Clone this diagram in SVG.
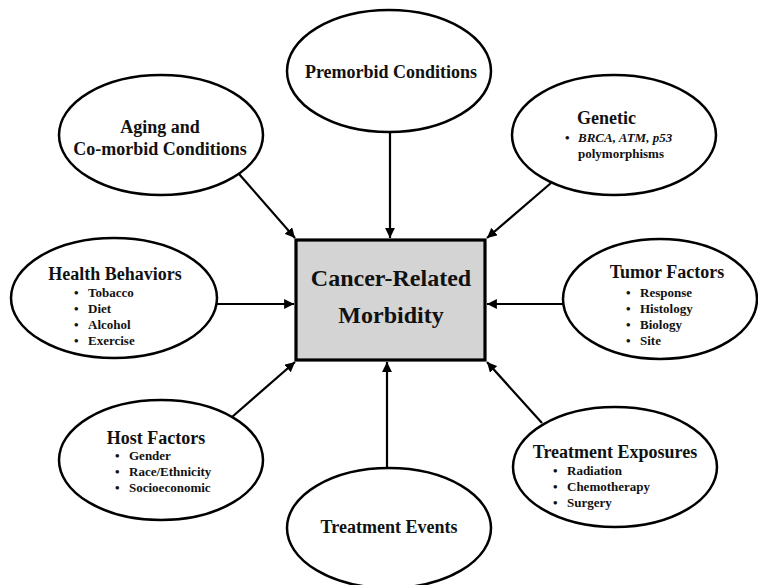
<svg xmlns="http://www.w3.org/2000/svg" width="758" height="585" viewBox="0 0 758 585">
  <style>
    .node ellipse { fill: #ffffff; stroke: #000; stroke-width: 2.5; }
    .title { font-family: "Liberation Serif", "Times New Roman", serif; font-weight: bold; font-size: 18px; fill: #111; }
    .item { font-family: "Liberation Serif", "Times New Roman", serif; font-weight: bold; font-size: 13px; fill: #111; }
    .main { font-family: "Liberation Serif", "Times New Roman", serif; font-weight: bold; font-size: 24px; fill: #111; }
    .mid { text-anchor: middle; }
    .conn line { stroke: #000; stroke-width: 2.2; marker-end: url(#arrow); }
  </style>
  <defs>
    <marker id="arrow" viewBox="0 0 10 10" refX="10" refY="5" markerWidth="4.5" markerHeight="4.5" markerUnits="strokeWidth" orient="auto">
      <path d="M0,0 L10,5 L0,10 z" fill="#000"/>
    </marker>
  </defs>
  <rect width="758" height="585" fill="#ffffff"/>

  <!-- connectors -->
  <g id="connectors" class="conn">
    <line x1="390" y1="132" x2="390" y2="238"/>
    <line x1="239" y1="174" x2="295" y2="238"/>
    <line x1="551" y1="183" x2="487" y2="238"/>
    <line x1="217" y1="304" x2="294" y2="304"/>
    <line x1="563" y1="304" x2="487" y2="304"/>
    <line x1="232" y1="417" x2="295" y2="362"/>
    <line x1="387" y1="468" x2="387" y2="362"/>
    <line x1="542" y1="423" x2="487" y2="362"/>
  </g>

  <!-- central node -->
  <g id="cancer-related-morbidity">
    <rect x="296" y="240" width="189" height="120" fill="#d4d4d4" stroke="#000" stroke-width="3.2"/>
    <text class="main mid" x="391" y="286">Cancer-Related</text>
    <text class="main mid" x="391" y="323">Morbidity</text>
  </g>

  <g id="premorbid" class="node">
    <ellipse cx="389" cy="71" rx="102" ry="61"/>
    <text class="title mid" x="391" y="78">Premorbid Conditions</text>
  </g>

  <g id="aging" class="node">
    <ellipse cx="161" cy="135" rx="102" ry="60"/>
    <text class="title mid" x="160" y="133">Aging and</text>
    <text class="title mid" x="160" y="155">Co-morbid Conditions</text>
  </g>

  <g id="genetic" class="node">
    <ellipse cx="614" cy="135" rx="102" ry="60"/>
    <text class="title" x="577" y="124">Genetic</text>
    <text class="item" x="565" y="142">•</text>
    <text class="item" x="578" y="142" font-style="italic">BRCA, ATM, p53</text>
    <text class="item" x="578" y="158">polymorphisms</text>
  </g>

  <g id="health-behaviors" class="node">
    <ellipse cx="114" cy="298" rx="103" ry="60"/>
    <text class="title mid" x="115" y="280">Health Behaviors</text>
    <text class="item" x="74" y="297">•</text><text class="item" x="88" y="297">Tobacco</text>
    <text class="item" x="74" y="313">•</text><text class="item" x="88" y="313">Diet</text>
    <text class="item" x="74" y="329">•</text><text class="item" x="88" y="329">Alcohol</text>
    <text class="item" x="74" y="345">•</text><text class="item" x="88" y="345">Exercise</text>
  </g>

  <g id="tumor-factors" class="node">
    <ellipse cx="660" cy="299" rx="97" ry="60"/>
    <text class="title mid" x="667" y="278">Tumor Factors</text>
    <text class="item" x="626" y="297">•</text><text class="item" x="640" y="297">Response</text>
    <text class="item" x="626" y="313">•</text><text class="item" x="640" y="313">Histology</text>
    <text class="item" x="626" y="329">•</text><text class="item" x="640" y="329">Biology</text>
    <text class="item" x="626" y="345">•</text><text class="item" x="640" y="345">Site</text>
  </g>

  <g id="host-factors" class="node">
    <ellipse cx="161" cy="460" rx="102" ry="60"/>
    <text class="title mid" x="156" y="444">Host Factors</text>
    <text class="item" x="115" y="460">•</text><text class="item" x="129" y="460">Gender</text>
    <text class="item" x="115" y="476">•</text><text class="item" x="129" y="476">Race/Ethnicity</text>
    <text class="item" x="115" y="492">•</text><text class="item" x="129" y="492">Socioeconomic</text>
  </g>

  <g id="treatment-events" class="node">
    <ellipse cx="389" cy="528" rx="102" ry="60"/>
    <text class="title mid" x="389" y="533">Treatment Events</text>
  </g>

  <g id="treatment-exposures" class="node">
    <ellipse cx="615" cy="467" rx="102" ry="60"/>
    <text class="title mid" x="615" y="458">Treatment Exposures</text>
    <text class="item" x="553" y="475">•</text><text class="item" x="567" y="475">Radiation</text>
    <text class="item" x="553" y="491">•</text><text class="item" x="567" y="491">Chemotherapy</text>
    <text class="item" x="553" y="507">•</text><text class="item" x="567" y="507">Surgery</text>
  </g>
</svg>
